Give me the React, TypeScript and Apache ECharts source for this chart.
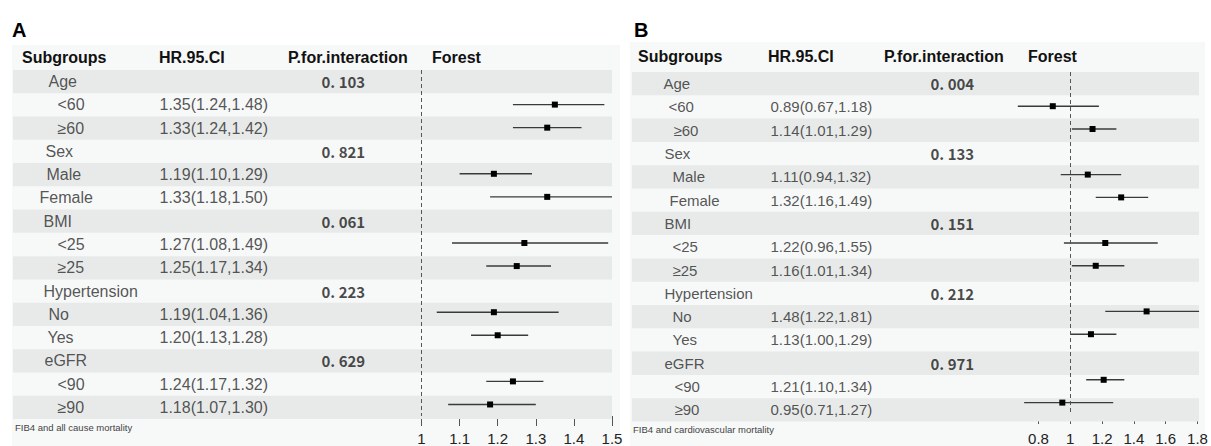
import React, { useEffect, useRef } from "react";
import * as echarts from "echarts";

// ---------- DATA ----------
const subgroups = ["Age", "<60", "≥60", "Sex", "Male", "Female", "BMI", "<25", "≥25", "Hypertension", "No", "Yes", "eGFR", "<90", "≥90"];

// Panel A: FIB4 and all cause mortality
const hrA = [null, 1.35, 1.33, null, 1.19, 1.33, null, 1.27, 1.25, null, 1.19, 1.2, null, 1.24, 1.18];
const loA = [null, 1.24, 1.24, null, 1.1, 1.18, null, 1.08, 1.17, null, 1.04, 1.13, null, 1.17, 1.07];
const hiA = [null, 1.48, 1.42, null, 1.29, 1.5, null, 1.49, 1.34, null, 1.36, 1.28, null, 1.32, 1.3];
const pA = ["0. 103", "0. 821", "0. 061", "0. 223", "0. 629"];
const ticksA = [1, 1.1, 1.2, 1.3, 1.4, 1.5];
const xlimA = [1, 1.5];

// Panel B: FIB4 and cardiovascular mortality
const hrB = [null, 0.89, 1.14, null, 1.11, 1.32, null, 1.22, 1.16, null, 1.48, 1.13, null, 1.21, 0.95];
const loB = [null, 0.67, 1.01, null, 0.94, 1.16, null, 0.96, 1.01, null, 1.22, 1.0, null, 1.1, 0.71];
const hiB = [null, 1.18, 1.29, null, 1.32, 1.49, null, 1.55, 1.34, null, 1.81, 1.29, null, 1.34, 1.27];
const pB = ["0. 004", "0. 133", "0. 151", "0. 212", "0. 971"];
const ticksB = [0.8, 1, 1.2, 1.4, 1.6, 1.8];
const xlimB = [0.67, 1.8];

const headers = ["Subgroups", "HR.95.CI", "P.for.interaction", "Forest"];
const footA = "FIB4 and all cause mortality";
const footB = "FIB4 and cardiovascular mortality";

// ---------- LAYOUT ----------
const FONT = '"Liberation Sans", Arial, sans-serif';
const BAND = "#e8eaea";
const PANEL_BG = "#f7f8f8";

const layoutA = {
  letter: "A", letterX: 12, bgX: 12, bgY: 45, bgW: 608,
  bandLeft: 13, bandW: 599, top: 70, height: 349,
  headerX: [22, 159, 288, 432], headerY: 57,
  indent: [35, 44, 44, 32, 33, 26, 30, 44, 44, 30, 35, 34, 31, 44, 44],
  hrX: 146, pX: 308, font: 16, labelMargin: 15,
  forestLeft: 421.5, forestW: 190.5, footX: 15, footY: 427,
};
const layoutB = {
  letter: "B", letterX: 634, bgX: 630, bgY: 42, bgW: 575,
  bandLeft: 632, bandW: 567, top: 72, height: 349.5,
  headerX: [638, 768, 884, 1028], headerY: 56,
  indent: [31, 36, 41, 32, 40, 37, 32, 40, 40, 32, 40, 40, 32, 42, 42],
  hrX: 138, pX: 298, font: 15, labelMargin: 17,
  forestLeft: 1017.8, forestW: 179.7, footX: 633, footY: 429,
};

function buildPanel(
  L: any, hr: any[], lo: any[], hi: any[], pv: string[], ticks: number[], xlim: number[], foot: string, gi: number
) {
  const grids = [
    { left: L.bandLeft, top: L.top, width: L.bandW, height: L.height },
    { left: L.forestLeft, top: L.top, width: L.forestW, height: L.height },
  ];
  const xAxes = [
    { gridIndex: gi, type: "value", min: 0, max: L.bandW, show: false },
    {
      gridIndex: gi + 1, type: "value", min: xlim[0], max: xlim[1],
      axisLine: { show: true, onZero: false, lineStyle: { color: "#555", width: 1 } },
      axisTick: { show: true, inside: false, length: 10, customValues: ticks, lineStyle: { color: "#555", width: 1 } },
      axisLabel: { show: true, customValues: ticks, fontSize: 15, color: "#222", margin: L.labelMargin, fontFamily: FONT, formatter: (v: number) => String(v) },
      splitLine: { show: false },
    },
  ];
  const yAxes = [
    { gridIndex: gi, type: "category", data: subgroups, inverse: true, show: false },
    { gridIndex: gi + 1, type: "category", data: subgroups, inverse: true, show: false },
  ];
  const groupRows: number[] = [];
  hr.forEach((v, i) => { if (v === null) groupRows.push(i); });

  const labelBase = { show: true, position: "right", distance: 0, fontFamily: FONT, fontSize: L.font, color: "#2a2a2a" };
  const hidden = { color: "rgba(0,0,0,0)" };

  const series: any[] = [
    {
      type: "bar", xAxisIndex: gi, yAxisIndex: gi, barWidth: "100%", barCategoryGap: "0%", z: 1, silent: true,
      itemStyle: { color: BAND },
      data: subgroups.map((_, i) => (i % 2 === 0 ? L.bandW : "-")),
    },
    {
      type: "scatter", xAxisIndex: gi, yAxisIndex: gi, symbolSize: 1, itemStyle: hidden, z: 3, silent: true,
      label: { ...labelBase, formatter: "{b}" },
      data: subgroups.map((s, i) => ({ name: s, value: [L.indent[i], i] })),
    },
    {
      type: "scatter", xAxisIndex: gi, yAxisIndex: gi, symbolSize: 1, itemStyle: hidden, z: 3, silent: true,
      label: { ...labelBase, formatter: "{b}" },
      data: hr
        .map((v, i) => (v === null ? null : {
          name: `${v.toFixed(2)}(${lo[i].toFixed(2)},${hi[i].toFixed(2)})`,
          value: [L.hrX, i],
        }))
        .filter((d) => d !== null),
    },
    {
      type: "scatter", xAxisIndex: gi, yAxisIndex: gi, symbolSize: 1, itemStyle: hidden, z: 3, silent: true,
      label: { ...labelBase, fontFamily: '"Noto Sans CJK SC", sans-serif', fontWeight: "bold", fontSize: 15, color: "#1a1a1a", formatter: "{b}" },
      data: pv.map((p, k) => ({ name: p, value: [L.pX, groupRows[k]] })),
    },
    {
      type: "custom", xAxisIndex: gi + 1, yAxisIndex: gi + 1, z: 4, silent: true, clip: false,
      encode: { x: [1, 2, 3], y: 0 },
      data: hr.map((v, i) => (v === null ? null : [i, v, lo[i], hi[i]])).filter((d) => d !== null),
      renderItem: (params: any, api: any) => {
        const row = api.value(0);
        const p0 = api.coord([api.value(2), row]);
        const p1 = api.coord([api.value(3), row]);
        const pc = api.coord([api.value(1), row]);
        return {
          type: "group",
          children: [
            { type: "line", shape: { x1: p0[0], y1: p0[1], x2: p1[0], y2: p1[1] }, style: { stroke: "#3a3a3a", lineWidth: 1.4 } },
            { type: "rect", shape: { x: pc[0] - 3, y: pc[1] - 3, width: 6, height: 6 }, style: { fill: "#000" } },
          ],
        };
      },
      markLine: {
        silent: true, symbol: ["none", "none"], label: { show: false },
        lineStyle: { type: [4, 3], color: "#555", width: 1 },
        data: [{ xAxis: 1 }],
      },
    },
  ];

  const graphics: any[] = [
    { type: "rect", z: -10, shape: { x: L.bgX, y: L.bgY, width: L.bgW, height: 446 - L.bgY }, style: { fill: PANEL_BG } },
    { type: "text", style: { text: L.letter, x: L.letterX, y: 30, font: `bold 20px ${FONT}`, fill: "#000", verticalAlign: "middle" } },
    ...headers.map((h, k) => ({
      type: "text",
      style: { text: h, x: L.headerX[k], y: L.headerY, font: `bold 16px ${FONT}`, fill: "#111", verticalAlign: "middle" },
    })),
    { type: "text", style: { text: foot, x: L.footX, y: L.footY, font: `9.5px ${FONT}`, fill: "#444", verticalAlign: "middle" } },
  ];

  return { grids, xAxes, yAxes, series, graphics };
}

export default function App() {
  const ref = useRef<HTMLDivElement>(null);
  useEffect(() => {
    if (!ref.current) return;
    const chart = echarts.init(ref.current, undefined, { renderer: "svg" });
    const A = buildPanel(layoutA, hrA, loA, hiA, pA, ticksA, xlimA, footA, 0);
    const B = buildPanel(layoutB, hrB, loB, hiB, pB, ticksB, xlimB, footB, 2);
    chart.setOption({
      animation: false,
      backgroundColor: "#ffffff",
      textStyle: { fontFamily: FONT },
      grid: [...A.grids, ...B.grids],
      xAxis: [...A.xAxes, ...B.xAxes],
      yAxis: [...A.yAxes, ...B.yAxes],
      series: [...A.series, ...B.series],
      graphic: { elements: [...A.graphics, ...B.graphics] },
    });
    return () => chart.dispose();
  }, []);
  return <div ref={ref} style={{ position: "absolute", left: 0, top: 0, width: 1211, height: 446 }} />;
}
